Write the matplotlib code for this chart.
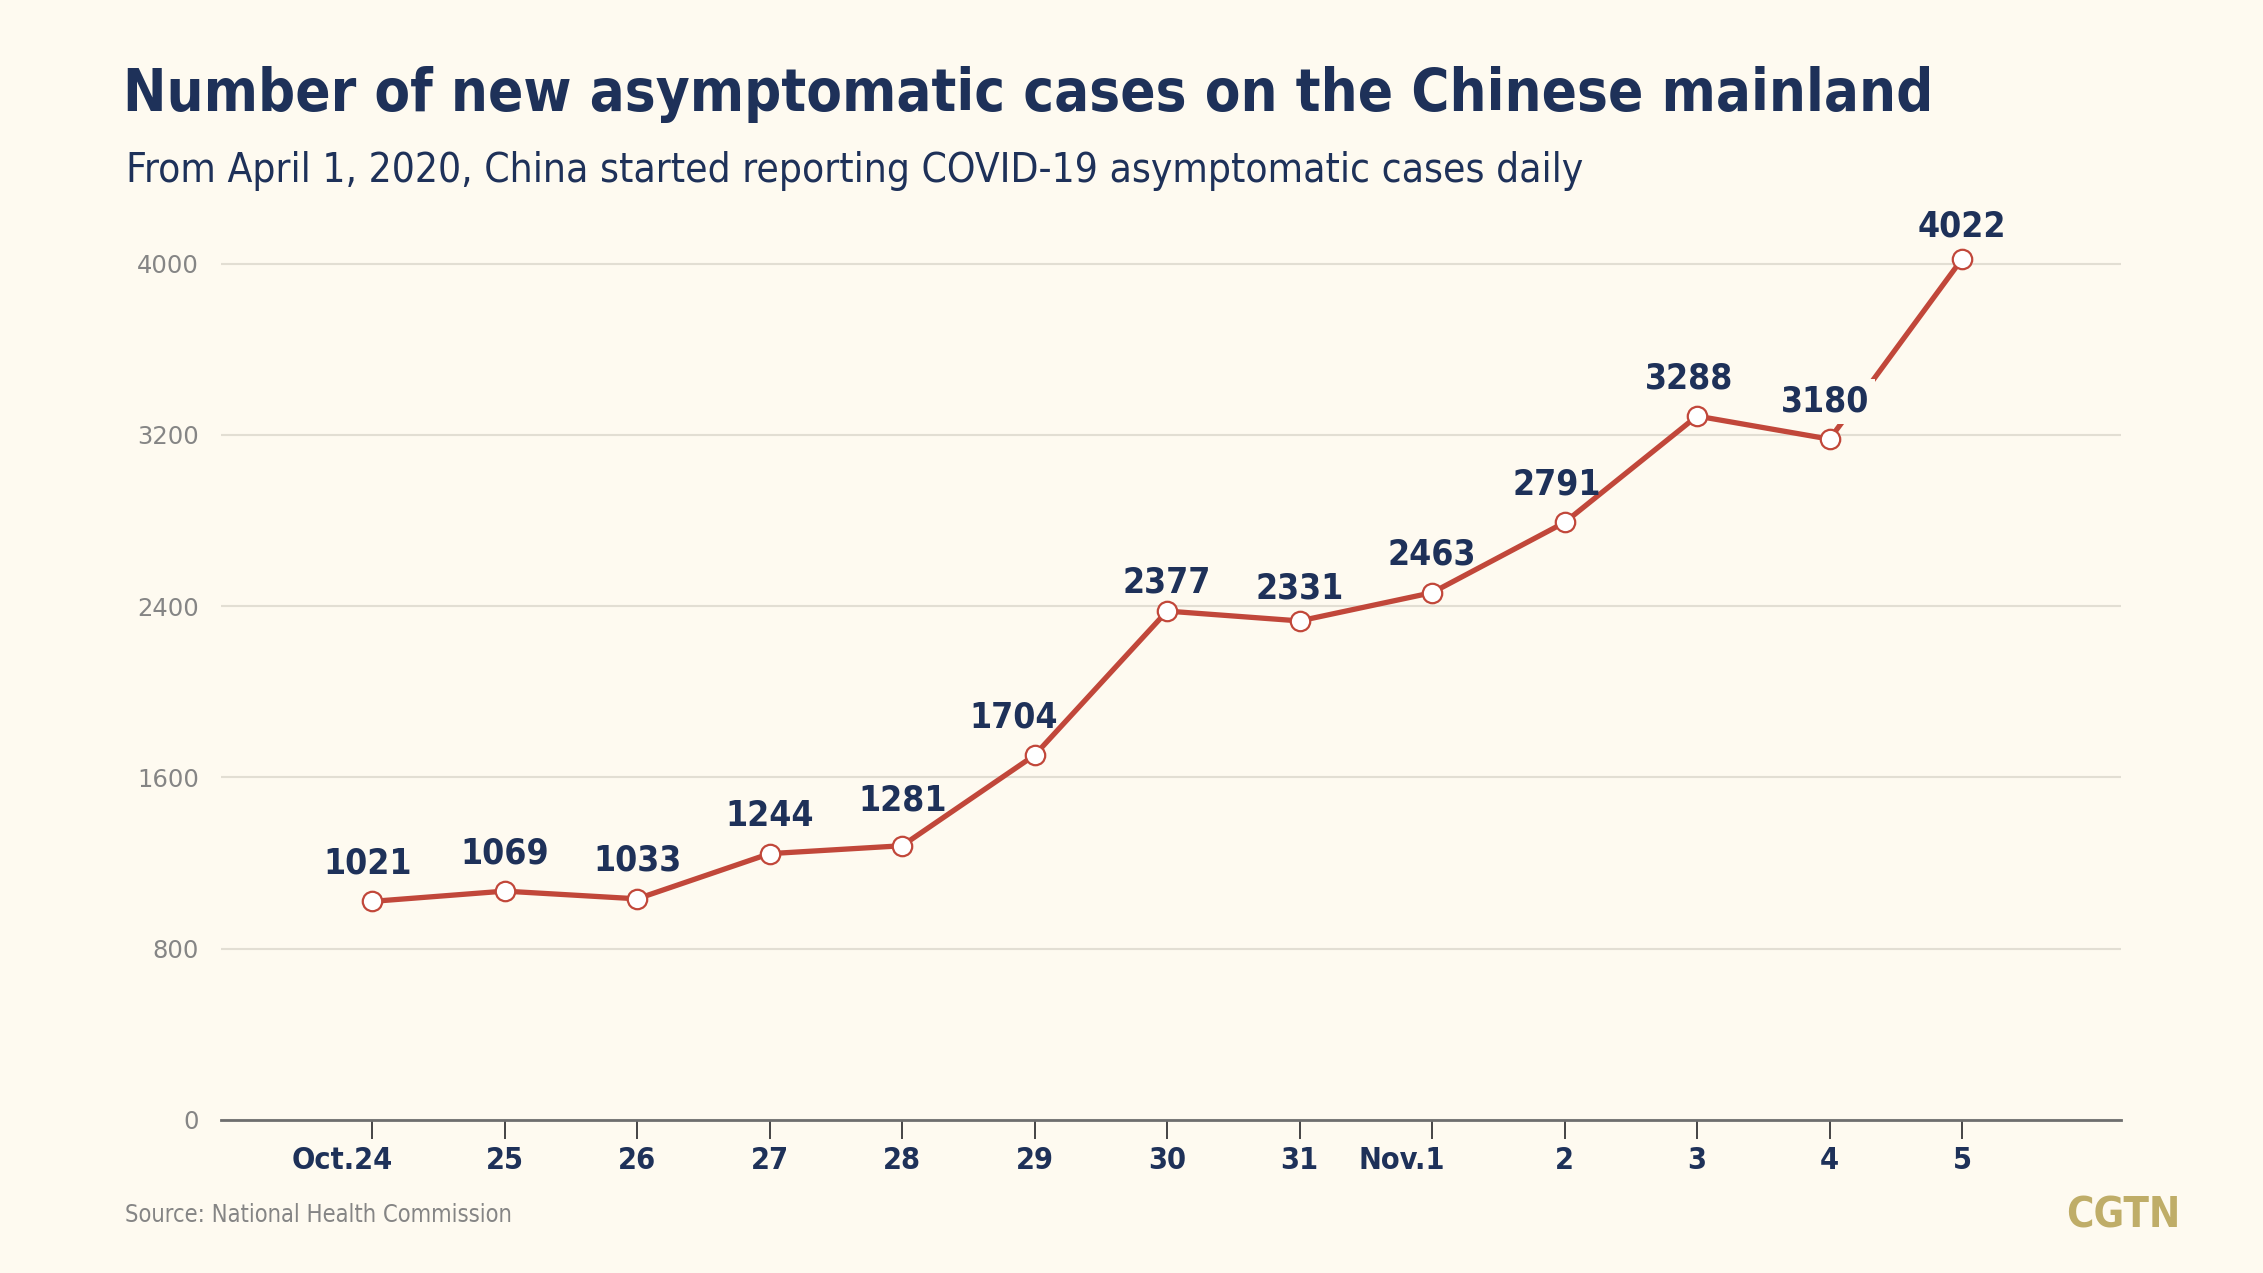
import matplotlib.pyplot as plt
from matplotlib.transforms import ScaledTranslation

# data
dates = ['Oct.24', '25', '26', '27', '28', '29', '30', '31', 'Nov.1', '2', '3', '4', '5']
cases = [1021, 1069, 1033, 1244, 1281, 1704, 2377, 2331, 2463, 2791, 3288, 3180, 4022]
y_ticks = [0, 800, 1600, 2400, 3200, 4000]

# small nudges for value labels (points), like in the original layout
label_dx = {0: -3, 5: -15, 9: -6, 10: -6, 11: -3}
label_dy = {6: 8, 7: 11, 12: 11, 4: 20}
boxed = {11}  # label that sits on top of the line

BG = '#fefaf0'
NAVY = '#1e3159'
RED = '#c1473a'
GREY = '#858585'
GRID = '#e2ded3'
FONT = 'DejaVu Sans'
COND = 'condensed'

fig = plt.figure(figsize=(22.63, 12.73), dpi=100, facecolor=BG)
ax = fig.add_axes([0.0977, 0.1202, 0.8396, 0.74])
ax.set_facecolor(BG)

x = list(range(len(dates)))
ax.plot(x, cases, color=RED, lw=3.8, zorder=3, solid_capstyle='round')
ax.plot(x, cases, 'o', ms=14, mfc='white', mec=RED, mew=1.6, zorder=4)

for i, v in enumerate(cases):
    bb = dict(boxstyle='square,pad=0.15', fc=BG, ec='none') if i in boxed else None
    ax.annotate(str(v), (i, v), xytext=(label_dx.get(i, 0), label_dy.get(i, 15)),
                textcoords='offset points', ha='center', va='bottom',
                fontsize=25.5, fontweight='bold', fontstretch=COND, color=NAVY,
                family=FONT, bbox=bb, zorder=5)

ax.set_xlim(-1.14, 13.2)
ax.set_ylim(0, 4400)
ax.set_yticks(y_ticks)
ax.grid(axis='y', color=GRID, lw=1.5, zorder=0)
ax.set_axisbelow(True)

for s in ['top', 'right', 'left']:
    ax.spines[s].set_visible(False)
ax.spines['bottom'].set_color('#6e6e6e')
ax.spines['bottom'].set_linewidth(2)
ax.spines['bottom'].set_zorder(2)

ax.tick_params(axis='y', length=0, pad=16, labelsize=17.5, labelcolor=GREY)
ax.tick_params(axis='x', length=14, width=1.4, color='#444444', direction='out',
               pad=5, labelsize=22, labelcolor=NAVY)
ax.set_xticks(x, dates)

for lab in ax.get_xticklabels():
    lab.set_family(FONT)
    lab.set_fontstretch(COND)
    lab.set_fontweight('bold')
    t = lab.get_text()
    if '.' in t:
        day = t.split('.')[1]
        lab.set_horizontalalignment('right')
        lab.set_transform(lab.get_transform() +
                          ScaledTranslation((3 + 6 * len(day)) / 72, 0, fig.dpi_scale_trans))

fig.text(0.0544, 0.9125, 'Number of new asymptomatic cases on the Chinese mainland',
         fontsize=41.7, fontweight='bold', fontstretch=COND, color=NAVY, family=FONT,
         va='baseline')
fig.text(0.0557, 0.857, 'From April 1, 2020, China started reporting COVID-19 asymptomatic cases daily',
         fontsize=29.2, fontstretch=COND, color=NAVY, family=FONT, va='baseline')
fig.text(0.0553, 0.040, 'Source: National Health Commission',
         fontsize=17, fontstretch=COND, color=GREY, family=FONT, va='baseline')
fig.text(0.9633, 0.0354, 'CGTN', fontsize=30, fontweight='bold', fontstretch=COND,
         color='#bfad68', family=FONT, ha='right', va='baseline')

fig.savefig('out.png', dpi=100, facecolor=BG)
